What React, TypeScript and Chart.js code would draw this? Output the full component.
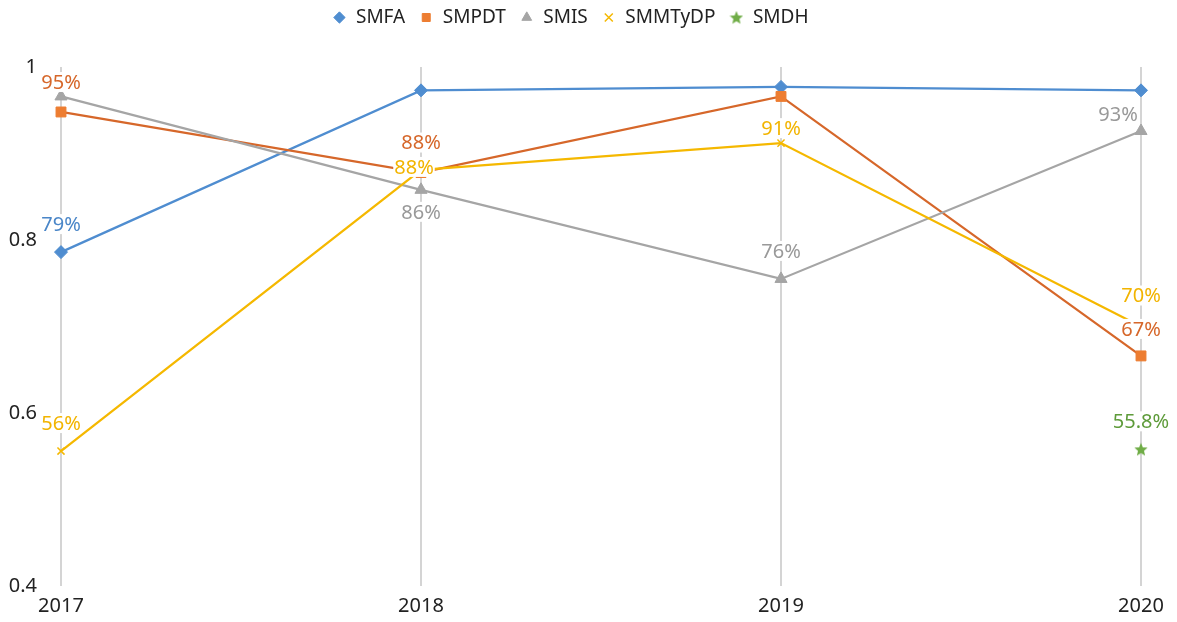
import React, { useEffect, useRef } from "react";
import { Chart, registerables } from "chart.js";
Chart.register(...registerables);

const categories = ["2017", "2018", "2019", "2020"];
const seriesNames = ["SMFA", "SMPDT", "SMIS", "SMMTyDP", "SMDH"];
const smfa = [0.786, 0.973, 0.977, 0.973];
const smpdt = [0.948, 0.878, 0.966, 0.666];
const smis = [0.966, 0.858, 0.755, 0.926];
const smmtydp = [0.556, 0.881, 0.912, 0.7];
const smdh = [null, null, null, 0.558];
const yTicks = [0.4, 0.6, 0.8, 1];

const smfaLabels = ["79%", null, null, null];
const smpdtLabels = ["95%", "88%", null, "67%"];
const smisLabels = [null, "86%", "76%", "93%"];
const smmtydpLabels = ["56%", "88%", "91%", "70%"];
const smdhLabels = [null, null, null, "55.8%"];

// label placement (style): [dx, dy] relative to the point
const labelOffsets = [
  [[0, -28], null, null, null],
  [[0, -30], [0, -30], null, [0, -27]],
  [null, [0, 22], [0, -28], [-23, -17]],
  [[0, -28], [-7, -3], [0, -15], [0, -31]],
  [null, null, null, [0, -28]],
];

const FONT = "'Noto Sans', 'Open Sans', sans-serif";

function makeStar(color: string, size: number) {
  const c = document.createElement("canvas");
  c.width = size;
  c.height = size;
  const ctx = c.getContext("2d")!;
  const cx = size / 2, cy = size / 2 + 0.5;
  const R = size / 2, r = R * 0.45;
  ctx.beginPath();
  for (let i = 0; i < 10; i++) {
    const rad = i % 2 === 0 ? R : r;
    const a = -Math.PI / 2 + (i * Math.PI) / 5;
    const x = cx + rad * Math.cos(a);
    const y = cy + rad * Math.sin(a);
    if (i === 0) ctx.moveTo(x, y);
    else ctx.lineTo(x, y);
  }
  ctx.closePath();
  ctx.fillStyle = color;
  ctx.fill();
  return c;
}

export default function App() {
  const ref = useRef<HTMLCanvasElement>(null);
  useEffect(() => {
    document.body.style.margin = "0";
    const star = makeStar("#70AD47", 14);
    const labelSets = [smfaLabels, smpdtLabels, smisLabels, smmtydpLabels, smdhLabels];
    const labelColors = ["#4A86C8", "#D6672A", "#999999", "#F2B400", "#5E9B3A"];

    const legendHeightPlugin = {
      id: "legendHeight",
      beforeLayout(chart: any) {
        const lg = chart.legend;
        if (lg && !lg._patched) {
          const orig = lg.fit.bind(lg);
          lg.fit = function () {
            orig();
            this.height = 73;
          };
          lg._patched = true;
        }
      },
    };

    const dataLabelPlugin = {
      id: "dataLabels",
      afterDatasetsDraw(chart: any) {
        const ctx = chart.ctx;
        ctx.save();
        ctx.font = `20px ${FONT}`;
        ctx.textAlign = "center";
        ctx.textBaseline = "middle";
        labelSets.forEach((labels, di) => {
          const meta = chart.getDatasetMeta(di);
          labels.forEach((txt, i) => {
            if (!txt) return;
            const pt = meta.data[i];
            const off = labelOffsets[di][i] || [0, -28];
            const x = pt.x + off[0];
            const y = pt.y + off[1];
            const w = ctx.measureText(txt).width;
            ctx.fillStyle = "#ffffff";
            ctx.fillRect(x - w / 2 - 1, y - 10, w + 2, 20);
            ctx.fillStyle = labelColors[di];
            ctx.fillText(txt, x, y + 1);
          });
        });
        ctx.restore();
      },
    };

    const chart = new Chart(ref.current!, {
      type: "line",
      data: {
        labels: categories,
        datasets: [
          {
            label: seriesNames[0],
            data: smfa,
            borderColor: "#4F8DD0",
            backgroundColor: "#4F8DD0",
            pointStyle: "rectRot",
            pointRadius: 6.5,
            pointBorderWidth: 1,
            borderWidth: 2.25,
            order: 5,
          },
          {
            label: seriesNames[1],
            data: smpdt,
            borderColor: "#D6672A",
            backgroundColor: "#ED7D31",
            pointBorderColor: "#ED7D31",
            pointStyle: "rect",
            pointRadius: 7,
            pointBorderWidth: 1,
            borderWidth: 2.25,
            order: 4,
          },
          {
            label: seriesNames[2],
            data: smis,
            borderColor: "#A5A5A5",
            backgroundColor: "#A5A5A5",
            pointStyle: "triangle",
            pointRadius: 7,
            pointBorderWidth: 1,
            borderWidth: 2.25,
            order: 3,
          },
          {
            label: seriesNames[3],
            data: smmtydp,
            borderColor: "#F5B800",
            backgroundColor: "#F5B800",
            pointStyle: "crossRot",
            pointRadius: 5,
            pointBorderWidth: 1.5,
            borderWidth: 2.25,
            order: 2,
          },
          {
            label: seriesNames[4],
            data: smdh,
            borderColor: "#70AD47",
            backgroundColor: "#70AD47",
            pointStyle: star as any,
            pointRadius: 7,
            borderWidth: 2.25,
            order: 1,
          },
        ],
      },
      options: {
        responsive: false,
        animation: false,
        layout: { padding: { left: 0, right: 36, top: -6, bottom: 0 } },
        plugins: {
          legend: {
            position: "top",
            labels: {
              usePointStyle: true,
              boxWidth: 14,
              boxHeight: 8,
              padding: 14,
              color: "#222",
              font: { family: FONT, size: 19 },
              sort: (a: any, b: any) => a.datasetIndex - b.datasetIndex,
            },
          },
          tooltip: { enabled: false },
        },
        scales: {
          x: {
            type: "category",
            offset: false,
            grid: { display: true, color: "#D4D4D4", lineWidth: 2, drawTicks: false },
            border: { display: false },
            ticks: { color: "#222", padding: 8, font: { family: FONT, size: 20 }, maxRotation: 0 },
            afterFit: (s: any) => {
              s.height = 35;
            },
          },
          y: {
            min: 0.4,
            max: 1,
            grid: { display: false, drawTicks: false },
            border: { display: false },
            afterBuildTicks: (s: any) => {
              s.ticks = yTicks.map((v) => ({ value: v }));
            },
            ticks: {
              color: "#222",
              padding: 24,
              font: { family: FONT, size: 20 },
              callback: (v: any) => String(Number(v)),
            },
            afterFit: (s: any) => {
              s.width = 61;
            },
          },
        },
      },
      plugins: [legendHeightPlugin, dataLabelPlugin],
    });
    return () => chart.destroy();
  }, []);
  return (
    <div style={{ width: 1177, height: 622 }}>
      <canvas ref={ref} width={1177} height={622} style={{ display: "block" }} />
    </div>
  );
}
